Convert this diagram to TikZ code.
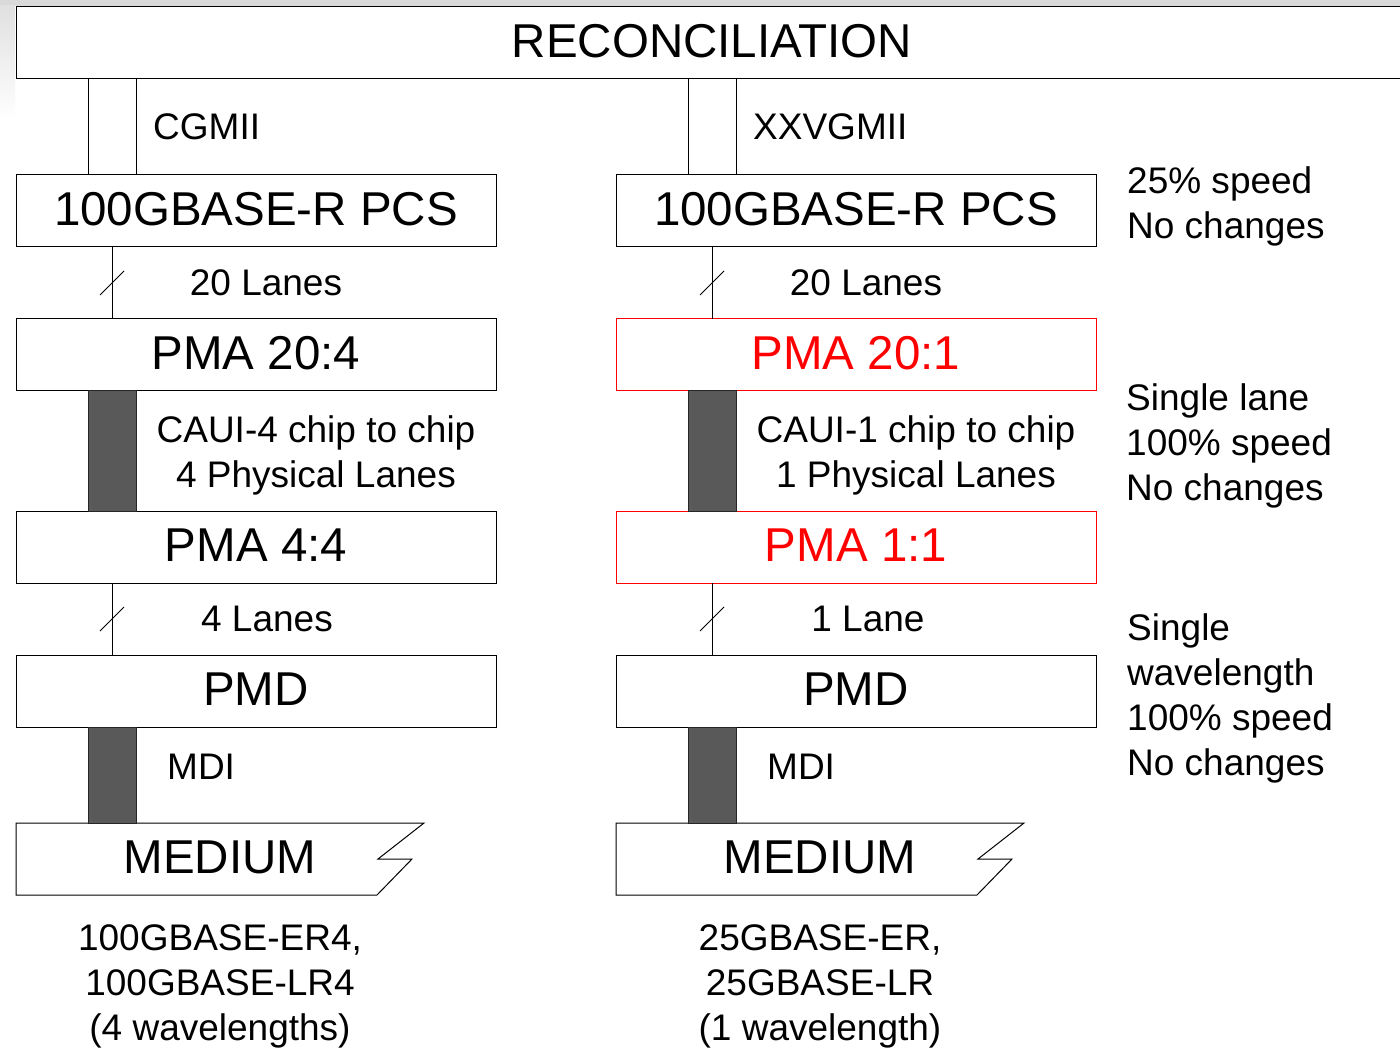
\documentclass[tikz,border=0pt]{standalone}
\usepackage{fontspec}
\setmainfont{Liberation Sans}
\usetikzlibrary{positioning,calc}

\tikzset{
  layer/.style={draw, line width=1pt, minimum width=480pt, minimum height=72pt,
    inner sep=0pt, outer sep=0pt, text depth=4pt, font=\fontsize{47.5}{50}\selectfont},
  changed/.style={layer, draw=red, text=red},
  lbl/.style={font=\fontsize{37}{45}\selectfont, inner sep=0pt},
  wire/.style={line width=1pt},
  bus/.style={draw=black!85, fill=black!65, line width=1pt},
}

\begin{document}
\begin{tikzpicture}[x=1pt, y=-1pt, node distance=72pt]
  \useasboundingbox (0,0) rectangle (1400,1048);
  \fill[black!15] (0,0) rectangle (1400,6);
  \shade[top color=black!12, bottom color=white] (0,6) rectangle (15,120);

  \node[layer, draw=none, minimum width=1392pt, anchor=north west] (recon) at (16,7) {RECONCILIATION};
  \draw[wire] (recon.north east) -- (recon.north west) -- (recon.south west) -- (recon.south east);

  % 100G column
  \node[layer] (pcsL) at (256,211) {100GBASE-R PCS};
  \node[layer, below=of pcsL] (pmaL) {PMA 20:4};
  \node[layer, below=120pt of pmaL] (pmbL) {PMA 4:4};
  \node[layer, below=of pmbL] (pmdL) {PMD};
  \coordinate (medtopL) at (16,823);
  \draw[wire] (medtopL) -- ++(408,0) -- ++(-46,36) -- ++(34,0) -- ++(-35,36) -- ++(-361,0) -- cycle;
  \node[layer, draw=none, minimum width=0pt] (medL) at (220,859) {MEDIUM};

  % 25G column
  \node[layer] (pcsR) at (856,211) {100GBASE-R PCS};
  \node[changed, below=of pcsR] (pmaR) {PMA 20:1};
  \node[changed, below=120pt of pmaR] (pmbR) {PMA 1:1};
  \node[layer, below=of pmbR] (pmdR) {PMD};
  \coordinate (medtopR) at (616,823);
  \draw[wire] (medtopR) -- ++(408,0) -- ++(-46,36) -- ++(34,0) -- ++(-35,36) -- ++(-361,0) -- cycle;
  \node[layer, draw=none, minimum width=0pt] (medR) at (820,859) {MEDIUM};

  % interfaces
  \foreach \col in {L,R} {
    \draw[wire] ([xshift=72pt]pcs\col.north west) rectangle ([xshift=120pt]pcs\col.north west |- recon.south);
    \draw[bus] ([xshift=72pt]pma\col.south west) rectangle ([xshift=120pt]pmb\col.north west);
    \draw[bus] ([xshift=72pt]pmd\col.south west) rectangle ([xshift=120pt]pmd\col.south west |- medtop\col);
  }
  \foreach \a/\b in {pcsL/pmaL, pmbL/pmdL, pcsR/pmaR, pmbR/pmdR} {
    \draw[wire] ([xshift=96pt]\a.south west) coordinate (top) -- ([xshift=96pt]\b.north west) coordinate (bot);
    \draw[wire] ($(top)!0.5!(bot)$) ++(-12,12) -- ++(24,-24);
  }

  % labels
  \node[lbl, anchor=west] (cgmii) at (153,127) {CGMII};
  \node[lbl, anchor=west] (xxvgmii) at (753,127) {XXVGMII};
  \node[lbl] (lanesL) at (266,283) {20 Lanes};
  \node[lbl] (lanesR) at (866,283) {20 Lanes};
  \node[lbl, align=center] (cauiL) at (316,455) {CAUI-4 chip to chip\\4 Physical Lanes};
  \node[lbl, align=center] (cauiR) at (916,455) {CAUI-1 chip to chip\\1 Physical Lanes};
  \node[lbl] (laneL) at (267,619) {4 Lanes};
  \node[lbl] (laneR) at (868,619) {1 Lane};
  \node[lbl, anchor=west] (mdiL) at (167,767) {MDI};
  \node[lbl, anchor=west] (mdiR) at (767,767) {MDI};
  \node[lbl, align=center] (phyL) at (220,986) {100GBASE-ER4,\\100GBASE-LR4\\(4 wavelengths)};
  \node[lbl, align=center] (phyR) at (820,986) {25GBASE-ER,\\25GBASE-LR\\(1 wavelength)};

  % notes
  \node[lbl, align=left, anchor=west] (notePcs) at (1127,206) {25\% speed\\No changes};
  \node[lbl, align=left, anchor=west] (notePma) at (1126,446) {Single lane\\100\% speed\\No changes};
  \node[lbl, align=left, anchor=west] (notePmd) at (1127,698) {Single\\wavelength\\100\% speed\\No changes};
\end{tikzpicture}
\end{document}
